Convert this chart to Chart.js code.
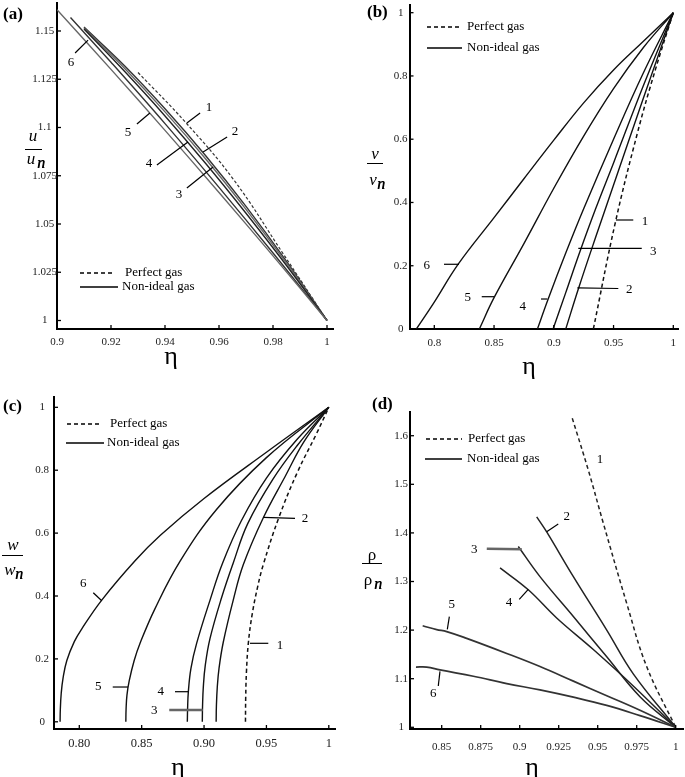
<!DOCTYPE html>
<html><head><meta charset="utf-8">
<script src="https://cdn.jsdelivr.net/npm/chart.js@4.4.1/dist/chart.umd.min.js"></script>
<style>
html,body{margin:0;padding:0;background:#fff;}
body{width:685px;height:777px;position:relative;overflow:hidden;}
canvas{position:absolute;left:-30px;top:-30px;}
</style></head><body>
<canvas id="ca"></canvas><canvas id="cb"></canvas><canvas id="cc"></canvas><canvas id="cd"></canvas>
<script>
// ---------------- DATA ----------------
// Panel (a): u/u_n vs eta
const etaA1 = [0.930, 0.9474, 0.9653, 0.9838, 1.000];
const uA1   = [1.1285, 1.1030, 1.0732, 1.0345, 1.000];
const etaA2 = [0.910, 0.925, 0.940, 0.955, 0.970, 0.985, 1.000];
const uA2   = [1.1520, 1.1320, 1.1097, 1.0855, 1.0591, 1.0306, 1.000];
const etaA3 = [0.910, 0.925, 0.940, 0.955, 0.970, 0.985, 1.000];
const uA3   = [1.1515, 1.1307, 1.1081, 1.0838, 1.0576, 1.0297, 1.000];
const etaA4 = [0.910, 0.925, 0.940, 0.955, 0.970, 0.985, 1.000];
const uA4   = [1.1510, 1.1291, 1.1060, 1.0815, 1.0556, 1.0285, 1.000];
const etaA5 = [0.905, 0.920, 0.940, 0.960, 0.980, 1.000];
const uA5   = [1.1570, 1.1338, 1.1020, 1.0690, 1.0350, 1.000];
const etaA6 = [0.900, 0.920, 0.940, 0.960, 0.980, 1.000];
const uA6   = [1.1610, 1.1301, 1.0985, 1.0663, 1.0335, 1.000];
const xTicksA = [0.9, 0.92, 0.94, 0.96, 0.98, 1];
const xLabelsA = ['0.9', '0.92', '0.94', '0.96', '0.98', '1'];
const yTicksA = [1, 1.025, 1.05, 1.075, 1.1, 1.125, 1.15];
const yLabelsA = ['1', '1.025', '1.05', '1.075', '1.1', '1.125', '1.15'];

// Panel (b): v/v_n vs eta
const etaB1 = [0.9331, 0.9514, 0.970, 0.985, 1.000];
const vB1   = [0, 0.335, 0.62, 0.82, 1.0];
const etaB2 = [0.9100, 0.921, 0.935, 0.950, 0.975, 1.000];
const vB2   = [0, 0.132, 0.29, 0.455, 0.73, 1.0];
const etaB3 = [0.8994, 0.910, 0.9219, 0.935, 0.950, 0.975, 1.000];
const vB3   = [0, 0.115, 0.245, 0.38, 0.525, 0.77, 1.0];
const etaB4 = [0.8863, 0.8953, 0.910, 0.925, 0.950, 0.975, 1.000];
const vB4   = [0, 0.095, 0.24, 0.38, 0.60, 0.81, 1.0];
const etaB5 = [0.8377, 0.850, 0.875, 0.900, 0.925, 0.950, 0.975, 1.000];
const vB5   = [0, 0.099, 0.27, 0.445, 0.61, 0.76, 0.89, 1.0];
const etaB6 = [0.785, 0.800, 0.820, 0.850, 0.875, 0.900, 0.925, 0.950, 0.975, 1.000];
const vB6   = [0, 0.085, 0.205, 0.352, 0.475, 0.597, 0.715, 0.819, 0.91, 1.0];
const xTicksB = [0.8, 0.85, 0.9, 0.95, 1];
const xLabelsB = ['0.8', '0.85', '0.9', '0.95', '1'];
const yTicksB = [0, 0.2, 0.4, 0.6, 0.8, 1];
const yLabelsB = ['0', '0.2', '0.4', '0.6', '0.8', '1'];

// Panel (c): w/w_n vs eta
const etaC1 = [0.9332, 0.9334, 0.9340, 0.9355, 0.9385, 0.9430, 0.9475, 0.960, 0.975, 0.990, 1.000];
const wC1   = [0, 0.08, 0.16, 0.25, 0.34, 0.43, 0.50, 0.65, 0.795, 0.915, 1.0];
const etaC2 = [0.9097, 0.9099, 0.9106, 0.9120, 0.9154, 0.9234, 0.9315, 0.9475, 0.965, 0.980, 1.000];
const wC2   = [0, 0.05, 0.11, 0.17, 0.253, 0.387, 0.50, 0.649, 0.78, 0.89, 1.0];
const etaC3 = [0.8986, 0.8988, 0.8994, 0.9010, 0.9048, 0.9141, 0.9234, 0.935, 0.955, 0.975, 1.000];
const wC3   = [0, 0.05, 0.11, 0.18, 0.265, 0.395, 0.505, 0.63, 0.77, 0.88, 1.0];
const etaC4 = [0.8866, 0.8868, 0.8874, 0.8895, 0.8941, 0.9048, 0.9149, 0.930, 0.950, 0.975, 1.000];
const wC4   = [0, 0.04, 0.095, 0.17, 0.25, 0.387, 0.505, 0.64, 0.775, 0.90, 1.0];
const etaC5 = [0.8373, 0.8375, 0.8382, 0.8400, 0.8440, 0.8487, 0.8607, 0.8807, 0.910, 0.950, 1.000];
const wC5   = [0, 0.04, 0.085, 0.13, 0.195, 0.25, 0.36, 0.51, 0.675, 0.84, 1.0];
const etaC6 = [0.7846, 0.7848, 0.7855, 0.7870, 0.7900, 0.7960, 0.8019, 0.818, 0.8447, 0.865, 0.900, 0.950, 1.000];
const wC6   = [0, 0.04, 0.09, 0.14, 0.195, 0.255, 0.295, 0.387, 0.512, 0.593, 0.71, 0.857, 1.0];
const xTicksC = [0.8, 0.85, 0.9, 0.95, 1];
const xLabelsC = ['0.80', '0.85', '0.90', '0.95', '1'];
const yTicksC = [0, 0.2, 0.4, 0.6, 0.8, 1];
const yLabelsC = ['0', '0.2', '0.4', '0.6', '0.8', '1'];

// Panel (d): rho/rho_n vs eta
const etaD1 = [0.9337, 0.944, 0.9536, 0.9686, 0.9814, 1.000];
const rD1   = [1.636, 1.529, 1.42, 1.255, 1.125, 1.0];
const etaD2 = [0.9109, 0.9173, 0.9344, 0.9558, 0.9728, 1.000];
const rD2   = [1.433, 1.402, 1.31, 1.20, 1.11, 1.0];
const etaD3 = [0.8991, 0.913, 0.9344, 0.9558, 0.9771, 1.000];
const rD3   = [1.372, 1.31, 1.228, 1.145, 1.063, 1.0];
const etaD4 = [0.8874, 0.9055, 0.9237, 0.9472, 0.9728, 1.000];
const rD4   = [1.328, 1.283, 1.225, 1.16, 1.085, 1.0];
const etaD5 = [0.8378, 0.8468, 0.8532, 0.866, 0.8917, 0.913, 0.9344, 0.9558, 0.9771, 1.000];
const rD5   = [1.209, 1.201, 1.197, 1.183, 1.152, 1.125, 1.095, 1.065, 1.035, 1.0];
const etaD6 = [0.8335, 0.8404, 0.8489, 0.8703, 0.8917, 0.913, 0.9344, 0.9558, 0.9771, 1.000];
const rD6   = [1.124, 1.124, 1.118, 1.105, 1.09, 1.077, 1.062, 1.045, 1.024, 1.0];
const xTicksD = [0.85, 0.875, 0.9, 0.925, 0.95, 0.975, 1];
const xLabelsD = ['0.85', '0.875', '0.9', '0.925', '0.95', '0.975', '1'];
const yTicksD = [1, 1.1, 1.2, 1.3, 1.4, 1.5, 1.6];
const yLabelsD = ['1', '1.1', '1.2', '1.3', '1.4', '1.5', '1.6'];

// curve-number annotations (data coordinates): [text, eta, value]
const labA = [['1',0.9563,1.1101],['2',0.9659,1.0977],['3',0.9452,1.0650],['4',0.9341,1.0811],['5',0.9263,1.0972],['6',0.9052,1.1334]];
const leadA = [[0.9481,1.1023,0.9530,1.1075],[0.9541,1.0873,0.9630,1.0951],[0.9481,1.0687,0.9578,1.0795],[0.9370,1.0806,0.9485,1.0925],[0.9296,1.1018,0.9344,1.1075],[0.9067,1.1386,0.9115,1.1453]];
const labB = [['1',0.9763,0.3392],['2',0.9632,0.1233],['3',0.9833,0.2444],['4',0.8740,0.0705],['5',0.8280,0.0990],['6',0.7936,0.2001]];
const leadB = [[0.9520,0.3446,0.9665,0.3446],[0.9197,0.130,0.9540,0.128],[0.9205,0.2551,0.9736,0.2551],[0.8893,0.0948,0.8946,0.0948],[0.8397,0.1021,0.8500,0.1021],[0.8081,0.2046,0.8207,0.2046]];
const labC = [['1',0.9609,0.2410],['2',0.9809,0.6471],['3',0.8601,0.0343],['4',0.8653,0.0957],['5',0.8152,0.1116],['6',0.8032,0.4406]];
const leadC = [[0.9368,0.2496,0.9515,0.2496],[0.9475,0.6502,0.9729,0.6471],[0.8721,0.0375,0.8989,0.0375,1],[0.8767,0.0957,0.8874,0.0957],[0.8268,0.1106,0.8390,0.1106],[0.8112,0.4105,0.8180,0.3851]];
const labD = [['1',0.9515,1.5500],['2',0.9301,1.4333],['3',0.8709,1.3663],['4',0.8931,1.2572],['5',0.8564,1.2516],['6',0.8446,1.0700]];
const leadD = [[0.9173,1.4025,0.9247,1.4183],[0.8789,1.3675,0.9013,1.3663,1],[0.8997,1.2634,0.9055,1.2840],[0.8549,1.2276,0.8536,1.2016],[0.8478,1.085,0.8489,1.115]];

// ---------------- RENDERING ----------------
const O = 30, CW = 745, CH = 837;
const SERIF = '"Liberation Serif", "Times New Roman", serif';
function pts(xs, ys){ return xs.map((x,i)=>({x:x, y:ys[i]})); }

function drawDecor(ctx, d){
  ctx.fillStyle = '#000'; ctx.strokeStyle = '#000';
  ctx.font = 'bold 17px ' + SERIF; ctx.textAlign = 'left'; ctx.textBaseline = 'middle';
  ctx.fillText(d.tag[0], d.tag[1], d.tag[2]);
  const f = d.frac;
  ctx.font = (f.italic ? 'italic ' : '') + '17px ' + SERIF; ctx.textAlign = 'center';
  ctx.fillText(f.sym, f.topX, f.topY);
  ctx.lineWidth = 1; ctx.beginPath(); ctx.moveTo(f.l1, f.ly + 0.5); ctx.lineTo(f.l2, f.ly + 0.5); ctx.stroke();
  ctx.fillText(f.sym, f.botX, f.botY);
  ctx.font = 'italic 16px ' + SERIF;
  ctx.fillText('n', f.subX, f.subY);
  ctx.fillText('n', f.subX + 0.4, f.subY);
  ctx.font = '26px ' + SERIF; ctx.textAlign = 'center';
  ctx.fillText('\u03b7', d.eta[0], d.eta[1]);
  const g = d.leg;
  ctx.lineWidth = 1.6;
  ctx.setLineDash([4,3]); ctx.beginPath(); ctx.moveTo(g.x1, g.y1); ctx.lineTo(g.x2, g.y1); ctx.stroke();
  ctx.setLineDash([]); ctx.beginPath(); ctx.moveTo(g.x1b, g.y2); ctx.lineTo(g.x2b, g.y2); ctx.stroke();
  ctx.font = '13px ' + SERIF; ctx.textAlign = 'left';
  ctx.fillText('Perfect gas', g.t1, g.y1);
  ctx.fillText('Non-ideal gas', g.t2, g.y2);
}

function makeChart(id, cfg){
  const cv = document.getElementById(id);
  cv.width = CW; cv.height = CH;
  const a = cfg.area;
  const overlay = {
    id: 'ov_' + id,
    afterDraw(chart){
      const ctx = chart.ctx, xs = chart.scales.x, ys = chart.scales.y, ca = chart.chartArea;
      ctx.save();
      ctx.strokeStyle = '#000'; ctx.lineWidth = 1.3;
      cfg.xTicks.forEach(v=>{ const p = xs.getPixelForValue(v); ctx.beginPath(); ctx.moveTo(p, ca.bottom); ctx.lineTo(p, ca.bottom - 4); ctx.stroke(); });
      cfg.yTicks.forEach(v=>{ const p = ys.getPixelForValue(v); ctx.beginPath(); ctx.moveTo(ca.left, p); ctx.lineTo(ca.left + 4, p); ctx.stroke(); });
      cfg.leads.forEach(l=>{
        ctx.strokeStyle = l[4] ? '#666' : '#000'; ctx.lineWidth = l[4] ? 2.6 : 1.2;
        ctx.beginPath(); ctx.moveTo(xs.getPixelForValue(l[0]), ys.getPixelForValue(l[1]));
        ctx.lineTo(xs.getPixelForValue(l[2]), ys.getPixelForValue(l[3])); ctx.stroke();
      });
      ctx.fillStyle = '#000'; ctx.font = '13px ' + SERIF; ctx.textAlign = 'center'; ctx.textBaseline = 'middle';
      cfg.labs.forEach(t=>{ ctx.fillText(t[0], xs.getPixelForValue(t[1]), ys.getPixelForValue(t[2])); });
      ctx.translate(O, O);
      drawDecor(ctx, cfg.decor);
      ctx.restore();
    }
  };
  return new Chart(cv, {
    type: 'line',
    data: { datasets: cfg.series.map(s=>({
      data: pts(s[0], s[1]), borderColor: s[2], borderWidth: s[4] || 1.4,
      borderDash: s[3] ? (cfg.dash || [4,3]) : [], pointRadius: 0, fill: false,
      tension: 0.4
    })) },
    options: {
      responsive: false, animation: false, devicePixelRatio: 1,
      layout: { padding: { left: 0, top: a.t + O, right: CW - (a.r + O), bottom: 0 } },
      plugins: { legend: { display: false }, tooltip: { enabled: false } },
      scales: {
        x: {
          type: 'linear', min: cfg.xMin, max: cfg.xMax,
          afterFit(s){ s.height = CH - (a.b + O); },
          afterBuildTicks(s){ s.ticks = cfg.xTicks.map(v=>({value:v})); },
          ticks: { autoSkip: false, maxRotation: 0, padding: cfg.xPad, color: '#222',
                   font: { family: SERIF, size: cfg.xFont }, callback: (v,i)=>cfg.xLabels[i] },
          grid: { display: false, drawTicks: false, tickLength: 0 },
          border: { display: true, color: '#000', width: 2 }
        },
        y: {
          type: 'linear', min: cfg.yMin, max: cfg.yMax,
          afterFit(s){ s.width = a.l + O; },
          afterBuildTicks(s){ s.ticks = cfg.yTicks.map(v=>({value:v})); },
          ticks: { autoSkip: false, padding: cfg.yPad, crossAlign: 'center', color: '#222',
                   font: { family: SERIF, size: 11 }, callback: (v,i)=>cfg.yLabels[i] },
          grid: { display: false, drawTicks: false, tickLength: 0 },
          border: { display: true, color: '#000', width: 2 }
        }
      }
    },
    plugins: [overlay]
  });
}

makeChart('ca', {
  area: {l:57, t:3, r:333, b:329}, xMin: 0.9, xMax: 1.00222, yMin: 0.9956, yMax: 1.1645,
  xTicks: xTicksA, xLabels: xLabelsA, yTicks: yTicksA, yLabels: yLabelsA, xPad: 7, yPad: 0, xFont: 11, dash: [3,2],
  series: [[etaA6,uA6,'#666'],[etaA5,uA5,'#333'],[etaA4,uA4,'#222'],[etaA3,uA3,'#666'],[etaA2,uA2,'#333'],[etaA1,uA1,'#333',true,1.2]],
  labs: labA, leads: leadA,
  decor: { tag: ['(a)', 3, 15],
    frac: {sym:'u', italic:true, topX:33, topY:137, l1:25, l2:42, ly:149, botX:31, botY:160, subX:41, subY:164},
    eta: [171, 357],
    leg: {x1:80, x2:115, y1:273, t1:125, x1b:80, x2b:118, y2:287, t2:122} }
});

makeChart('cb', {
  area: {l:409.5, t:5, r:678, b:329}, xMin: 0.77925, xMax: 1.00393, yMin: 0, yMax: 1.0243,
  xTicks: xTicksB, xLabels: xLabelsB, yTicks: yTicksB, yLabels: yLabelsB, xPad: 8, yPad: 2, xFont: 11,
  series: [[etaB6,vB6,'#111'],[etaB5,vB5,'#111'],[etaB4,vB4,'#111'],[etaB3,vB3,'#111'],[etaB2,vB2,'#111'],[etaB1,vB1,'#111',true,1.5]],
  labs: labB, leads: leadB,
  decor: { tag: ['(b)', 367, 13],
    frac: {sym:'v', italic:true, topX:375, topY:155, l1:367, l2:383, ly:163, botX:373, botY:181, subX:381, subY:185},
    eta: [529, 367],
    leg: {x1:427, x2:462, y1:27, t1:467, x1b:427, x2b:462, y2:48, t2:467} }
});

makeChart('cc', {
  area: {l:54, t:397, r:335, b:729}, xMin: 0.77972, xMax: 1.00497, yMin: -0.0229, yMax: 1.0328,
  xTicks: xTicksC, xLabels: xLabelsC, yTicks: yTicksC, yLabels: yLabelsC, xPad: 7, yPad: 5, xFont: 12.5,
  series: [[etaC6,wC6,'#111'],[etaC5,wC5,'#111'],[etaC4,wC4,'#111'],[etaC3,wC3,'#111'],[etaC2,wC2,'#111'],[etaC1,wC1,'#111',true,1.5]],
  labs: labC, leads: leadC,
  decor: { tag: ['(c)', 3, 407],
    frac: {sym:'w', italic:true, topX:13, topY:546, l1:2, l2:23, ly:555, botX:10, botY:571, subX:19, subY:575},
    eta: [178, 768],
    leg: {x1:67, x2:102, y1:424, t1:110, x1b:66, x2b:104, y2:443, t2:107} }
});

makeChart('cd', {
  area: {l:410, t:412, r:683, b:729}, xMin: 0.82968, xMax: 1.00468, yMin: 0.9965, yMax: 1.6488,
  xTicks: xTicksD, xLabels: xLabelsD, yTicks: yTicksD, yLabels: yLabelsD, xPad: 12, yPad: 2, xFont: 11,
  series: [[etaD6,rD6,'#333',false,1.7],[etaD5,rD5,'#333',false,1.7],[etaD4,rD4,'#222',false,1.5],[etaD3,rD3,'#222',false,1.5],[etaD2,rD2,'#222',false,1.5],[etaD1,rD1,'#222',true,1.5]],
  labs: labD, leads: leadD,
  decor: { tag: ['(d)', 372, 405],
    frac: {sym:'\u03c1', italic:false, topX:372, topY:556, l1:362, l2:382, ly:563, botX:368, botY:581, subX:378, subY:585},
    eta: [532, 768],
    leg: {x1:426, x2:462, y1:439, t1:468, x1b:425, x2b:462, y2:459, t2:467} }
});
</script>
</body></html>
